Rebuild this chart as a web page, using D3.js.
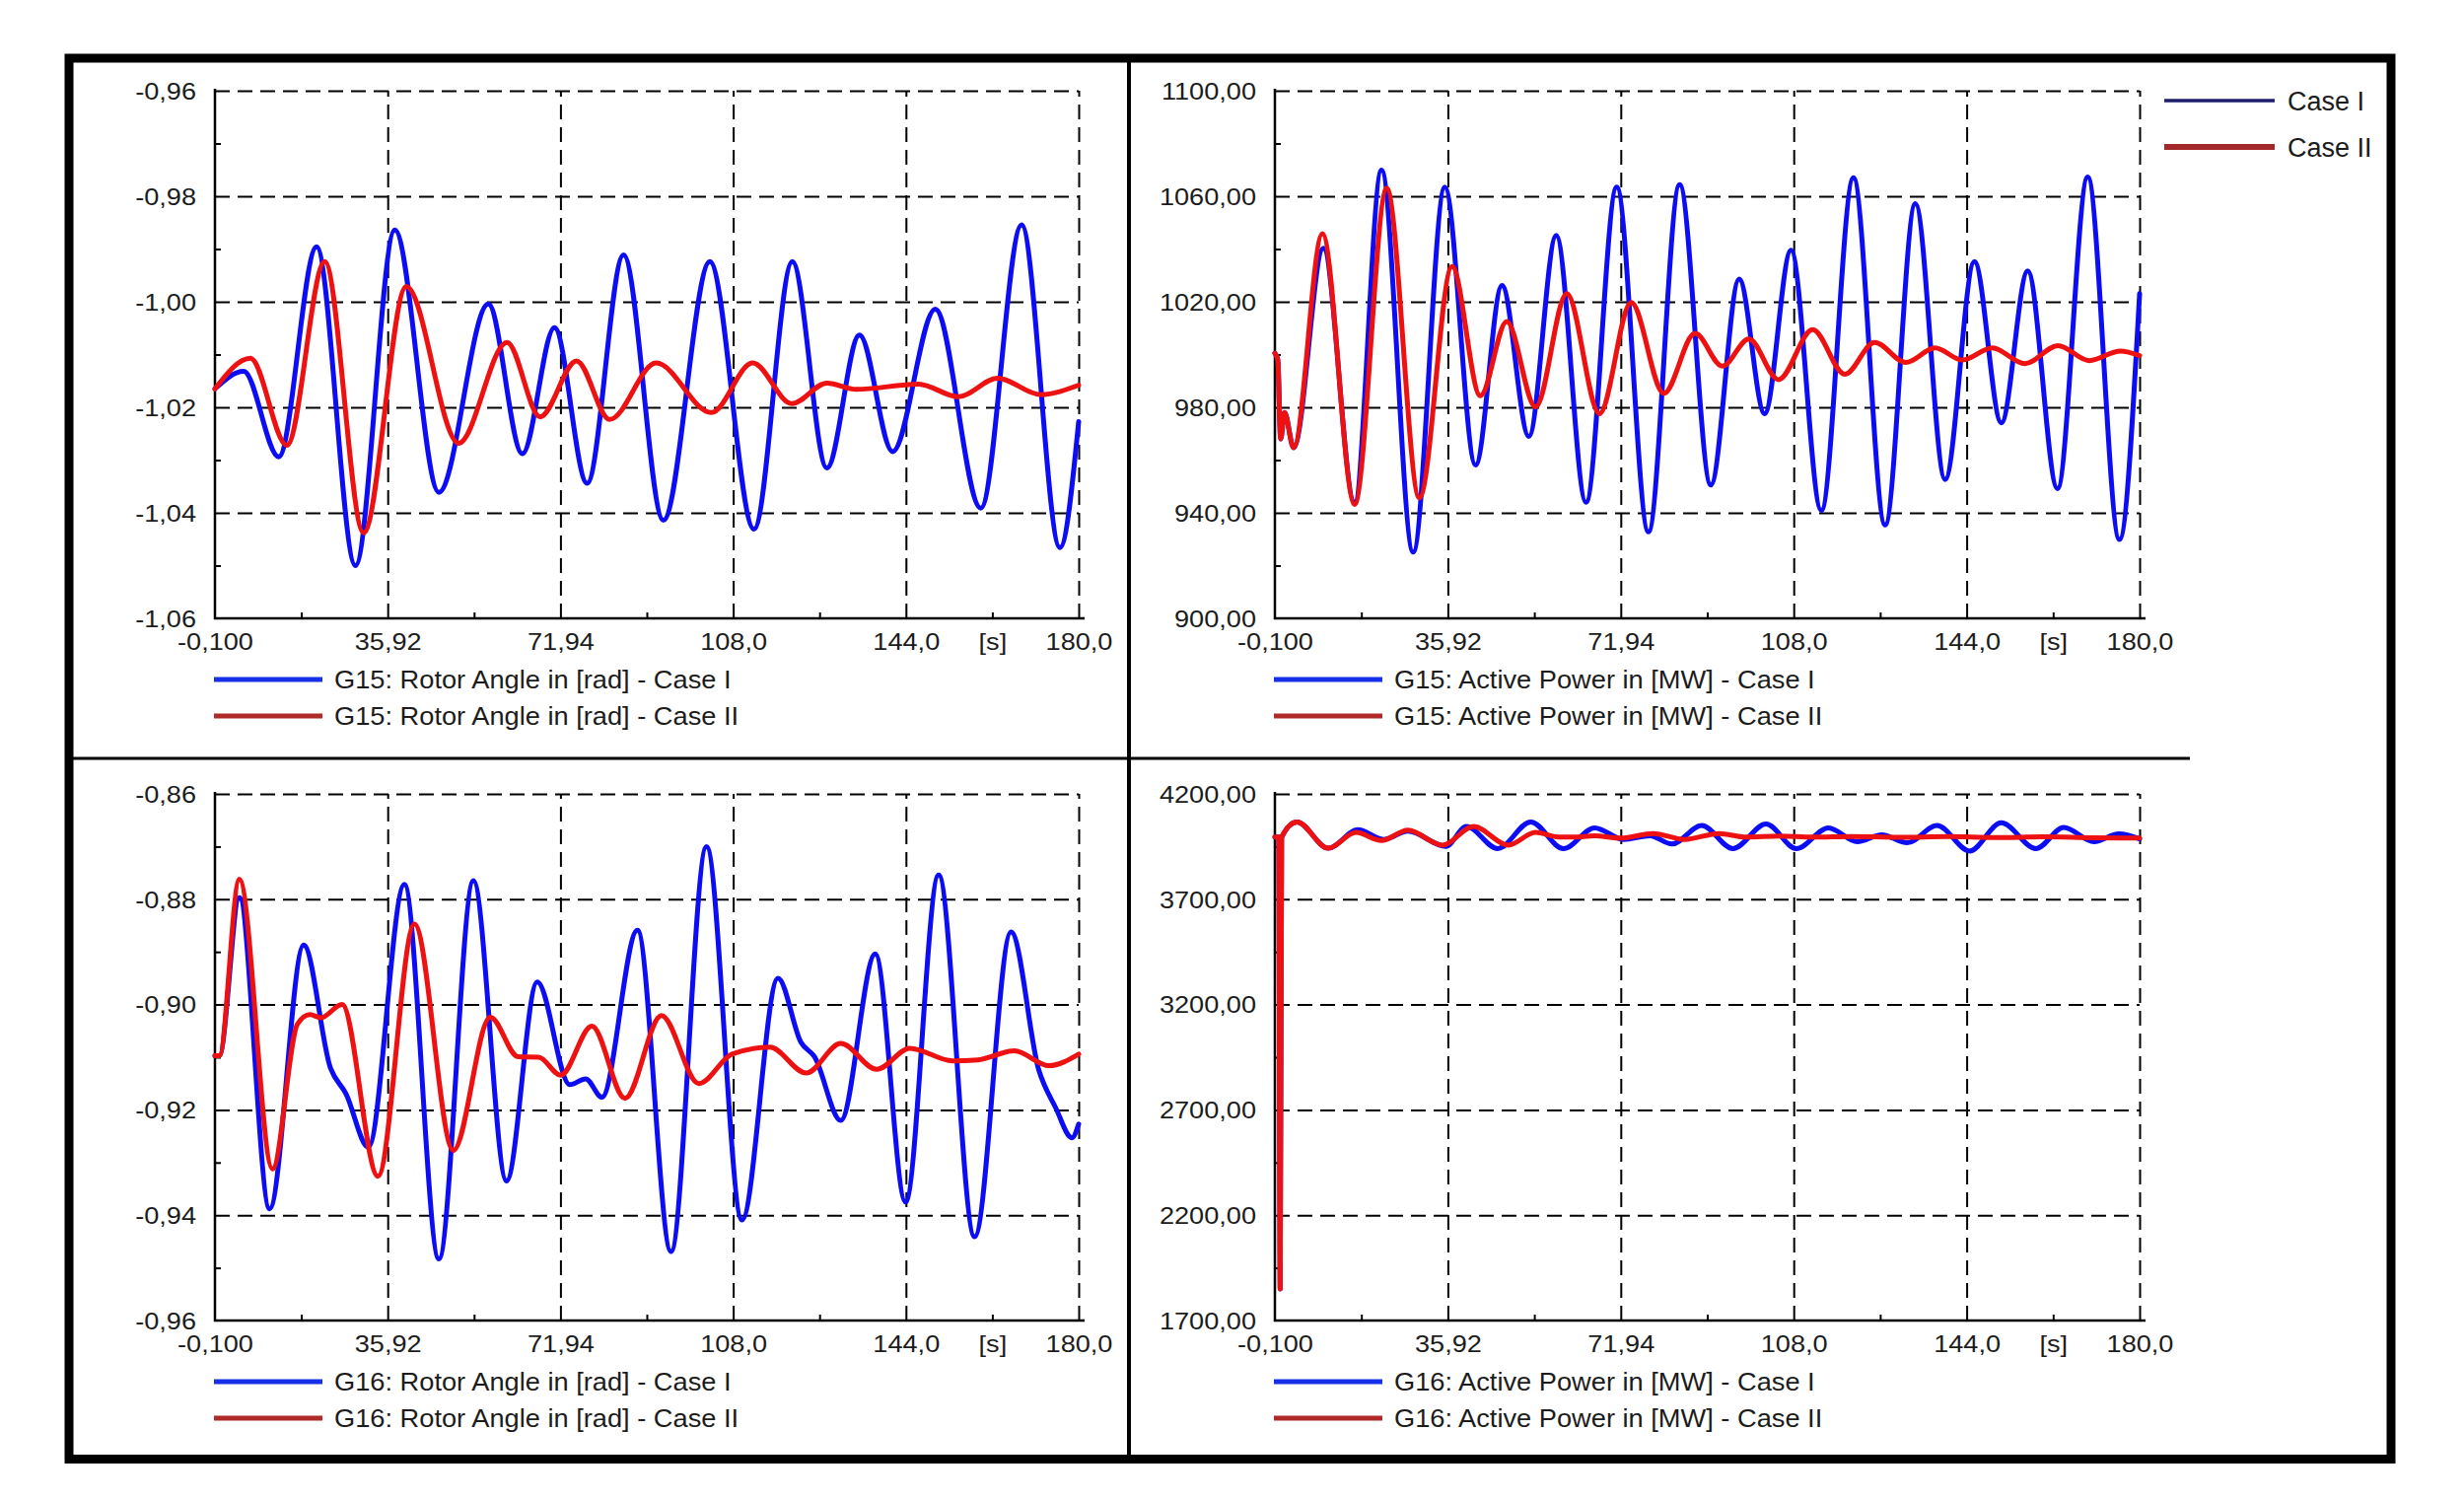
<!DOCTYPE html>
<html><head><meta charset="utf-8">
<script src="https://cdn.jsdelivr.net/npm/d3@7"></script>
<style>
html,body{margin:0;padding:0;background:#fff;}
svg{display:block;}
text{font-family:"Liberation Sans",Arial,sans-serif;fill:#1c1c1c;}
</style></head><body>
<svg id="chart" width="2499" height="1522"></svg>
<script>
// ---------- tick values / labels ----------
const timeTicks = [-0.1, 35.92, 71.94, 107.96, 143.98, 180.0];
const timeLabelValues = [-0.1, 35.92, 71.94, 107.96, 143.98, 161.99, 180.0];
const timeLabels = ["-0,100", "35,92", "71,94", "108,0", "144,0", "[s]", "180,0"];

const g15AngleTicks = [-1.06, -1.04, -1.02, -1.00, -0.98, -0.96];
const g15AngleLabels = ["-1,06", "-1,04", "-1,02", "-1,00", "-0,98", "-0,96"];
const g15PowerTicks = [900, 940, 980, 1020, 1060, 1100];
const g15PowerLabels = ["900,00", "940,00", "980,00", "1020,00", "1060,00", "1100,00"];
const g16AngleTicks = [-0.96, -0.94, -0.92, -0.90, -0.88, -0.86];
const g16AngleLabels = ["-0,96", "-0,94", "-0,92", "-0,90", "-0,88", "-0,86"];
const g16PowerTicks = [1700, 2200, 2700, 3200, 3700, 4200];
const g16PowerLabels = ["1700,00", "2200,00", "2700,00", "3200,00", "3700,00", "4200,00"];

const caseNames = ["Case I", "Case II"];

// ---------- series (time [s], value) ----------
const g15AngleCaseI = [[-0.1,-1.0165],[5.9,-1.0132],[13.2,-1.0294],[21.1,-0.9896],[29.2,-1.0500],[37.4,-0.9864],[46.6,-1.0361],[56.9,-1.0004],[64.0,-1.0288],[70.7,-1.0049],[77.5,-1.0344],[85.1,-0.9911],[93.4,-1.0414],[103.1,-0.9924],[112.3,-1.0431],[120.3,-0.9924],[127.5,-1.0315],[134.3,-1.0063],[141.2,-1.0284],[150.1,-1.0014],[159.6,-1.0391],[168.1,-0.9854],[176.1,-1.0466],[180,-1.0227]];
const g15AngleCaseII = [[-0.1,-1.0165],[7.3,-1.0107],[14.9,-1.0272],[22.8,-0.9924],[30.9,-1.0438],[39.8,-0.9971],[50.7,-1.0268],[60.8,-1.0077],[67.7,-1.0218],[75.3,-1.0112],[82.2,-1.0223],[91.9,-1.0116],[103.4,-1.0210],[112.0,-1.0116],[120.2,-1.0193],[127.5,-1.0154],[133.6,-1.0166],[146.6,-1.0156],[154.9,-1.0180],[163.1,-1.0145],[172.1,-1.0176],[180,-1.0158]];

const g15PowerCaseI = [[-0.1,1000.5],[0.5,998],[1.1,968],[1.9,978],[3.8,964.7],[10.0,1040.3],[16.5,944.0],[22.1,1069.9],[28.7,925.1],[35.3,1063.5],[41.7,958.1],[47.2,1026.2],[52.8,969.0],[58.5,1045.1],[64.7,944.0],[71.1,1063.5],[77.7,932.8],[84.2,1064.4],[90.7,950.6],[96.6,1028.6],[101.9,977.6],[107.4,1039.5],[113.7,940.9],[120.4,1067.0],[127.0,935.4],[133.3,1057.2],[139.5,952.6],[145.6,1035.2],[151.2,974.1],[156.7,1031.7],[162.9,949.2],[169.2,1067.3],[175.8,929.9],[180,1023.1]];
const g15PowerCaseII = [[-0.1,1000.5],[0.5,998],[1.1,968],[1.9,978],[3.8,964.7],[9.8,1045.8],[16.5,943.2],[23.2,1063.0],[30.0,945.7],[36.8,1033.4],[42.7,984.4],[48.2,1012.5],[54.2,980.1],[60.7,1023.1],[67.5,977.6],[74.1,1019.7],[80.9,985.3],[87.4,1008.0],[93.1,995.6],[98.6,1005.9],[104.8,990.5],[111.9,1009.4],[118.6,992.5],[124.8,1004.6],[131.3,997.0],[137.4,1002.5],[143.1,997.9],[149.3,1002.5],[156.1,996.5],[163.0,1003.4],[169.5,997.7],[176.0,1001.3],[180,999.6]];

const g16AngleCaseI = [[-0.1,-0.9097],[0.8,-0.9097],[5.0,-0.8797],[11.3,-0.9388],[18.4,-0.8887],[24.0,-0.9121],[27.2,-0.9169],[31.9,-0.9271],[39.4,-0.8772],[46.6,-0.9483],[53.8,-0.8765],[60.7,-0.9335],[67.1,-0.8957],[73.9,-0.9152],[77.2,-0.9141],[80.6,-0.9176],[88.0,-0.8859],[95.0,-0.9469],[102.4,-0.8700],[109.8,-0.9409],[117.3,-0.8950],[122.1,-0.9072],[124.9,-0.9099],[130.4,-0.9220],[137.6,-0.8904],[143.9,-0.9375],[150.8,-0.8754],[158.3,-0.9441],[165.9,-0.8862],[171.7,-0.9125],[175.2,-0.9196],[178.6,-0.9253],[180,-0.9227]];
const g16AngleCaseII = [[-0.1,-0.9097],[0.8,-0.9097],[5.0,-0.8762],[11.9,-0.9312],[17.1,-0.9037],[19.7,-0.9019],[22.0,-0.9025],[26.4,-0.9000],[33.9,-0.9326],[41.5,-0.8847],[49.6,-0.9277],[57.3,-0.9024],[63.1,-0.9099],[67.4,-0.9100],[72.0,-0.9134],[78.5,-0.9041],[85.4,-0.9178],[93.0,-0.9021],[100.8,-0.9150],[107.7,-0.9094],[115.6,-0.9081],[123.2,-0.9130],[130.4,-0.9074],[137.9,-0.9123],[144.8,-0.9083],[153.7,-0.9107],[159.0,-0.9105],[166.6,-0.9088],[173.8,-0.9116],[180,-0.9094]];

const g16PowerCaseI = [[-0.1,3995],[0.7,3995],[1.0,1850],[1.3,3995],[4.5,4067],[11.0,3942],[17.2,4030],[22.5,3984],[27.6,4023],[35.5,3951],[39.8,4045],[46.3,3940],[53.2,4067],[60.0,3940],[66.5,4039],[72.5,3984],[78.0,4001],[82.6,3962],[88.8,4050],[95.3,3940],[102.2,4057],[108.5,3940],[115.2,4039],[121.2,3973],[126.3,4006],[131.6,3968],[137.8,4050],[144.6,3929],[151.2,4063],[158.4,3940],[164.2,4041],[170.5,3973],[175.7,4010],[180,3986]];
const g16PowerCaseII = [[-0.1,3995],[0.7,3995],[1.0,1850],[1.3,3995],[4.5,4067],[11.0,3942],[16.8,4017],[22.1,3979],[27.6,4028],[34.8,3957],[41.3,4045],[48.5,3957],[54.2,4017],[59.0,3995],[62.1,3995],[66.5,4001],[72.0,3990],[78.7,4012],[85.2,3984],[92.4,4012],[98.0,3995],[105.0,4000],[112.0,3995],[120.0,3998],[130.0,3994],[140.0,3997],[150.0,3993],[160.0,3996],[170.0,3992],[180,3990]];

// ---------- drawing ----------
const svg = d3.select("#chart");
svg.append("rect").attr("width", 2499).attr("height", 1522).attr("fill", "#fff");

const panels = [
  {x0:218, x1:1094, y0:92,  y1:627,  ticks:g15AngleTicks, labels:g15AngleLabels, series:[g15AngleCaseI, g15AngleCaseII], title:"G15: Rotor Angle in [rad]"},
  {x0:1293,x1:2170, y0:92,  y1:627,  ticks:g15PowerTicks, labels:g15PowerLabels, series:[g15PowerCaseI, g15PowerCaseII], title:"G15: Active Power in [MW]"},
  {x0:218, x1:1094, y0:805, y1:1339, ticks:g16AngleTicks, labels:g16AngleLabels, series:[g16AngleCaseI, g16AngleCaseII], title:"G16: Rotor Angle in [rad]"},
  {x0:1293,x1:2170, y0:805, y1:1339, ticks:g16PowerTicks, labels:g16PowerLabels, series:[g16PowerCaseI, g16PowerCaseII], title:"G16: Active Power in [MW]"}
];

const lineColors = ["#0c0cf5", "#ee1111"];
const legendColors = ["#1530e8", "#b02a2a"];
const TX = 1.18;  // horizontal stretch of tick labels
const LX = 1.09;  // horizontal stretch of legend labels

function mid(arr){ return d3.pairs(arr).map(p => (p[0]+p[1])/2); }

panels.forEach(p => {
  const g = svg.append("g");
  const x = d3.scaleLinear().domain([timeTicks[0], timeTicks[timeTicks.length-1]]).range([p.x0, p.x1]);
  const y = d3.scaleLinear().domain([p.ticks[0], p.ticks[p.ticks.length-1]]).range([p.y1, p.y0]);
  const w = p.x1 - p.x0, h = p.y1 - p.y0;

  // dashed grid
  g.append("g").attr("transform", `translate(0,${p.y1})`)
    .call(d3.axisBottom(x).tickValues(timeTicks.slice(1)).tickSize(-h).tickFormat(""))
    .call(a => a.select(".domain").remove())
    .call(a => a.selectAll("line").attr("stroke", "#000").attr("stroke-width", 2).attr("stroke-dasharray", "15,8"));
  g.append("g").attr("transform", `translate(${p.x0},0)`)
    .call(d3.axisLeft(y).tickValues(p.ticks.slice(1)).tickSize(-w).tickFormat(""))
    .call(a => a.select(".domain").remove())
    .call(a => a.selectAll("line").attr("stroke", "#000").attr("stroke-width", 2).attr("stroke-dasharray", "15,8"));

  // minor ticks
  g.append("g").attr("transform", `translate(0,${p.y1})`)
    .call(d3.axisBottom(x).tickValues(mid(timeTicks)).tickSize(-6).tickFormat(""))
    .call(a => a.select(".domain").remove())
    .call(a => a.selectAll("line").attr("stroke", "#000").attr("stroke-width", 2));
  g.append("g").attr("transform", `translate(${p.x0},0)`)
    .call(d3.axisLeft(y).tickValues(mid(p.ticks)).tickSize(-6).tickFormat(""))
    .call(a => a.select(".domain").remove())
    .call(a => a.selectAll("line").attr("stroke", "#000").attr("stroke-width", 2));

  // solid axis lines
  g.append("line").attr("x1", p.x0).attr("x2", p.x0).attr("y1", p.y0 - 2).attr("y2", p.y1 + 1)
    .attr("stroke", "#000").attr("stroke-width", 2.5);
  g.append("line").attr("x1", p.x0 - 1).attr("x2", p.x1 + 6).attr("y1", p.y1).attr("y2", p.y1)
    .attr("stroke", "#000").attr("stroke-width", 2.5);

  // tick labels
  g.append("g").attr("transform", `translate(0,${p.y1})`)
    .call(d3.axisBottom(x).tickValues(timeLabelValues).tickSize(0).tickFormat((d, i) => timeLabels[i]))
    .call(a => a.select(".domain").remove())
    .call(a => a.selectAll("text").attr("y", 16).attr("dy", "0.71em")
        .attr("transform", `scale(${TX},1)`).style("font-size", "23px")
        .style("font-family", '"Liberation Sans",Arial,sans-serif').attr("fill", "#1c1c1c"));
  g.append("g").attr("transform", `translate(${p.x0},0)`)
    .call(d3.axisLeft(y).tickValues(p.ticks).tickSize(0).tickFormat((d, i) => p.labels[i]))
    .call(a => a.select(".domain").remove())
    .call(a => a.selectAll("text").attr("x", -19 / TX).attr("dy", "0.36em")
        .attr("transform", `scale(${TX},1)`).style("font-size", "23px")
        .style("font-family", '"Liberation Sans",Arial,sans-serif').attr("fill", "#1c1c1c"));

  // data lines
  const line = d3.line().x(d => x(d[0])).y(d => y(d[1])).curve(d3.curveMonotoneX);
  p.series.forEach((s, i) => {
    g.append("path").datum(s).attr("d", line).attr("fill", "none")
      .attr("stroke", lineColors[i]).attr("stroke-width", 5)
      .attr("stroke-linejoin", "round").attr("stroke-linecap", "round");
  });

  // legend
  caseNames.forEach((c, i) => {
    const ly = p.y1 + 62 + i * 37;
    g.append("line").attr("x1", p.x0 - 1).attr("x2", p.x0 + 109).attr("y1", ly).attr("y2", ly)
      .attr("stroke", legendColors[i]).attr("stroke-width", 5);
    g.append("text").attr("transform", `translate(${p.x0 + 121},${ly}) scale(${LX},1)`)
      .attr("dy", "0.36em").style("font-size", "25px").text(`${p.title} - ${c}`);
  });
});

// global legend (top right)
const topLegendColors = ["#1e1e6e", "#a3282a"];
const topLegendWidths = [3.5, 6];
caseNames.forEach((c, i) => {
  const ly = 102 + i * 47;
  svg.append("line").attr("x1", 2195).attr("x2", 2307).attr("y1", ly).attr("y2", ly)
    .attr("stroke", topLegendColors[i]).attr("stroke-width", topLegendWidths[i]);
  svg.append("text").attr("x", 2320).attr("y", ly).attr("dy", "0.36em")
    .style("font-size", "27px").text(c);
});

// frame and dividers
svg.append("rect").attr("x", 70).attr("y", 59).attr("width", 2355).attr("height", 1420.5)
  .attr("fill", "none").attr("stroke", "#000").attr("stroke-width", 9);
svg.append("line").attr("x1", 1145).attr("x2", 1145).attr("y1", 59).attr("y2", 1479)
  .attr("stroke", "#000").attr("stroke-width", 4);
svg.append("line").attr("x1", 70).attr("x2", 2221).attr("y1", 769).attr("y2", 769)
  .attr("stroke", "#000").attr("stroke-width", 3);
</script></body></html>
